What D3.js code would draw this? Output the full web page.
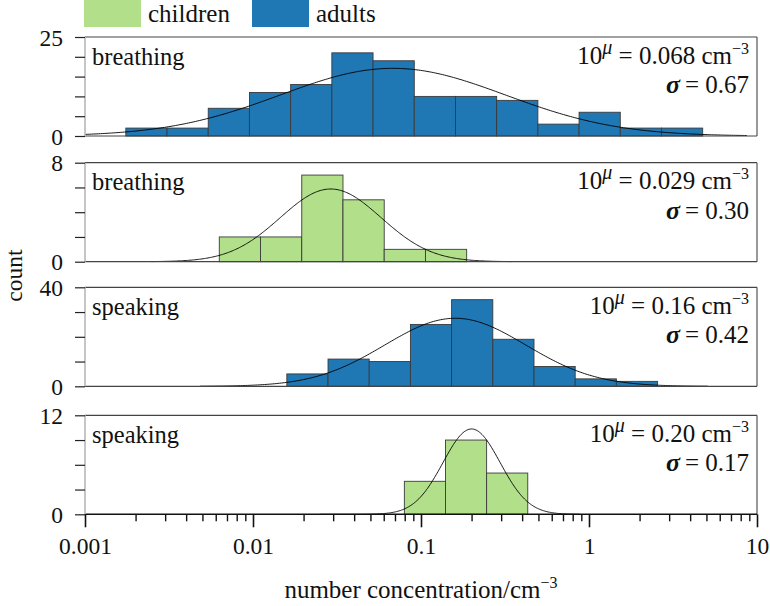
<!DOCTYPE html>
<html>
<head>
<meta charset="utf-8">
<script src="https://cdn.jsdelivr.net/npm/d3@7"></script>
<style>
  html, body { margin: 0; padding: 0; background: #fff; }
  svg { display: block; }
</style>
</head>
<body>
<svg id="chart" width="770" height="606"></svg>
<script>
// ---------------- data ----------------
const legendGroups = ["children", "adults"];
const groupColors = ["#b2df8a", "#1f77b4"];

const activities = ["breathing", "breathing", "speaking", "speaking"];
const panelGroups = ["adults", "children", "adults", "children"];

const counts1 = [2, 2, 7, 11, 13, 21, 19, 10, 10, 9, 3, 6, 2, 2];
const counts2 = [2, 2, 7, 5, 1, 1];
const counts3 = [5, 11, 10, 25, 35, 19, 8, 3, 2];
const counts4 = [4, 9, 5];

// lowest and highest histogram bin edges (cm^-3), equal-width bins in log10
const binLow  = [0.00175, 0.0063, 0.0159, 0.0796];
const binHigh = [4.75, 0.187, 2.56, 0.432];

// fitted log-normal parameters shown in the chart
const geoMeans = [0.068, 0.029, 0.16, 0.20];
const sigmas = [0.67, 0.30, 0.42, 0.17];
const geoMeanLabels = ["0.068", "0.029", "0.16", "0.20"];
const sigmaLabels = ["0.67", "0.30", "0.42", "0.17"];

// extent over which each fitted curve is drawn (cm^-3)
const curveFrom = [0.001, 0.00244, 0.00484, 0.0251];
const curveTo = [8.7, 0.348, 5.1, 0.883];

const yMaxes = [25, 8, 40, 12];
const yTicks1 = [0, 5, 10, 15, 20, 25];
const yTicks2 = [0, 2, 4, 6, 8];
const yTicks3 = [0, 10, 20, 30, 40];
const yTicks4 = [0, 3, 6, 9, 12];

const xDomain = [0.001, 10];
const xTickValues = [0.001, 0.01, 0.1, 1, 10];
const xTickLabels = ["0.001", "0.01", "0.1", "1", "10"];

const allCounts = [counts1, counts2, counts3, counts4];
const allYTicks = [yTicks1, yTicks2, yTicks3, yTicks4];

// ---------------- layout ----------------
const FONT = "Liberation Serif";
const svg = d3.select("#chart");
const left = 85, right = 757;
const panelTops = [37, 162.7, 287.3, 415.3];
const panelH = 99;

const x = d3.scaleLog().domain(xDomain).range([left, right]);
const colorOf = g => groupColors[legendGroups.indexOf(g)];
const txt = (sel) => sel.style("font-family", FONT).style("fill", "#111");

// ---------------- legend ----------------
const legX = [84, 252];
legendGroups.forEach((g, i) => {
  svg.append("rect").attr("x", legX[i]).attr("y", -3).attr("width", 57).attr("height", 30)
    .attr("fill", groupColors[i]);
  svg.append("text").attr("x", legX[i] + 64).attr("y", 22).style("font-size", "25px").call(txt).text(g);
});

// ---------------- panels ----------------
panelTops.forEach((top, p) => {
  const g = svg.append("g");
  const y = d3.scaleLinear().domain([0, yMaxes[p]]).range([top + panelH, top]);
  const cnt = allCounts[p];
  const lo = Math.log10(binLow[p]), hi = Math.log10(binHigh[p]);
  const w = (hi - lo) / cnt.length;
  const bins = cnt.map((c, i) => ({ x0: Math.pow(10, lo + i * w), x1: Math.pow(10, lo + (i + 1) * w), c }));

  // bars
  g.selectAll("rect.bar").data(bins).join("rect")
    .attr("class", "bar")
    .attr("x", d => x(d.x0))
    .attr("width", d => x(d.x1) - x(d.x0))
    .attr("y", d => y(d.c))
    .attr("height", d => y(0) - y(d.c))
    .attr("fill", colorOf(panelGroups[p]))
    .attr("stroke", "#3a3a3a")
    .attr("stroke-width", 0.9);

  // fitted log-normal curve
  const mu = Math.log10(geoMeans[p]), s = sigmas[p];
  const n = d3.sum(cnt);
  const amp = n * w / (s * Math.sqrt(2 * Math.PI));
  const a = Math.log10(curveFrom[p]), b = Math.log10(curveTo[p]);
  const pts = d3.range(0, 301).map(i => {
    const lx = a + (b - a) * i / 300;
    return [Math.pow(10, lx), amp * Math.exp(-((lx - mu) ** 2) / (2 * s * s))];
  });
  g.append("path").datum(pts)
    .attr("d", d3.line().x(d => x(d[0])).y(d => y(d[1])))
    .attr("fill", "none").attr("stroke", "#000").attr("stroke-width", 0.9);

  // frame
  g.append("line").attr("x1", left).attr("x2", right).attr("y1", top).attr("y2", top)
    .attr("stroke", "#444").attr("stroke-width", 1.2);
  g.append("line").attr("x1", right).attr("x2", right).attr("y1", top).attr("y2", top + panelH)
    .attr("stroke", "#555").attr("stroke-width", 1.2);
  g.append("line").attr("x1", left).attr("x2", right).attr("y1", top + panelH).attr("y2", top + panelH)
    .attr("stroke", p === 3 ? "#111" : "#444").attr("stroke-width", p === 3 ? 1.4 : 1.2);
  g.append("line").attr("x1", left).attr("x2", left).attr("y1", top).attr("y2", top + panelH)
    .attr("stroke", "#b8b8b8").attr("stroke-width", 1.6);

  // y axis
  const yAxis = d3.axisLeft(y).tickValues(allYTicks[p]).tickSize(10).tickPadding(12)
    .tickFormat(v => (v === 0 || v === yMaxes[p]) ? String(v) : "");
  const ya = g.append("g").attr("transform", `translate(${left},0)`).call(yAxis);
  ya.select(".domain").remove();
  ya.selectAll(".tick line").attr("stroke", "#222").attr("stroke-width", 1.2);
  ya.selectAll(".tick text").style("font-size", "23.5px").call(txt).attr("dy", "0.34em");

  // activity label
  g.append("text").attr("x", 92).attr("y", top + 27.5).style("font-size", "24.5px").call(txt).text(activities[p]);

  // fit parameters
  const t1 = g.append("text").attr("x", 749).attr("y", top + 26.5).attr("text-anchor", "end")
    .style("font-size", "25px").call(txt);
  t1.append("tspan").text("10");
  t1.append("tspan").style("font-style", "italic").style("font-size", "20px").attr("dy", -10).text("\u03bc");
  t1.append("tspan").attr("dy", 10).text(" = " + geoMeanLabels[p] + " cm");
  t1.append("tspan").style("font-size", "16px").attr("dy", -10).text("\u22123");

  const t2 = g.append("text").attr("x", 749).attr("y", top + 56).attr("text-anchor", "end")
    .style("font-size", "25px").call(txt);
  t2.append("tspan").style("font-style", "italic").style("font-weight", "bold").style("font-size", "26px").text("\u03c3");
  t2.append("tspan").text("\u2009= " + sigmaLabels[p]);
});

// ---------------- x axis (bottom panel) ----------------
const axisY = panelTops[3] + panelH;
const minorVals = x.ticks().filter(v => !xTickValues.some(t => Math.abs(t - v) / t < 1e-9));
const xMinor = d3.axisBottom(x).tickValues(minorVals).tickSize(7).tickFormat("");
const xm = svg.append("g").attr("transform", `translate(0,${axisY})`).call(xMinor);
xm.select(".domain").remove();
xm.selectAll(".tick line").attr("stroke", "#111").attr("stroke-width", 1.4);

const xMajor = d3.axisBottom(x).tickValues(xTickValues).tickSize(13).tickPadding(10)
  .tickFormat((d, i) => xTickLabels[i]);
const xa = svg.append("g").attr("transform", `translate(0,${axisY})`).call(xMajor);
xa.select(".domain").remove();
xa.selectAll(".tick line").attr("stroke", "#111").attr("stroke-width", 1.6);
xa.selectAll(".tick text").style("font-size", "23.5px").call(txt);

// axis titles
const xt = svg.append("text").attr("x", (left + right) / 2).attr("y", 598)
  .attr("text-anchor", "middle").style("font-size", "25px").call(txt);
xt.append("tspan").text("number concentration/cm");
xt.append("tspan").style("font-size", "16px").attr("dy", -10).text("\u22123");

svg.append("text").attr("transform", `translate(22,${(panelTops[0] + axisY) / 2}) rotate(-90)`)
  .attr("text-anchor", "middle").style("font-size", "23.5px").call(txt).text("count");
</script>
</body>
</html>
